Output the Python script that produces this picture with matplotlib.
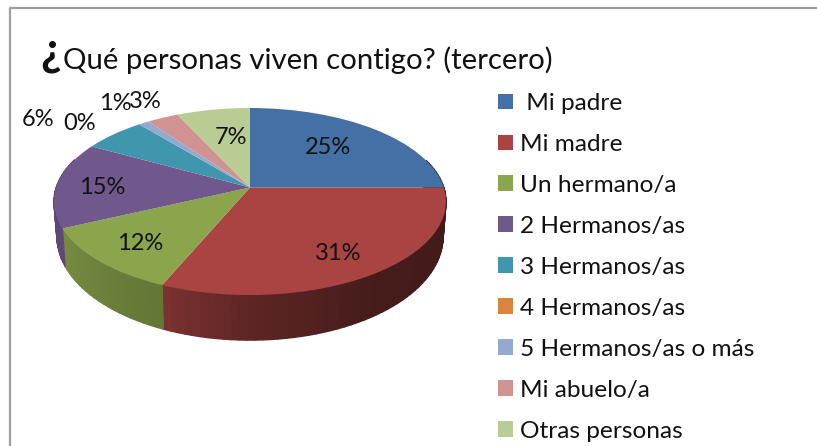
import numpy as np
import matplotlib
matplotlib.use("Agg")
import matplotlib.pyplot as plt
from matplotlib.collections import PolyCollection
from matplotlib.path import Path
from matplotlib.transforms import Transform

categories = [" Mi padre", "Mi madre", "Un hermano/a", "2 Hermanos/as", "3 Hermanos/as",
              "4 Hermanos/as", "5 Hermanos/as o más", "Mi abuelo/a", "Otras personas"]
values = [25, 31.4, 11.7, 14.9, 6, 0, 1, 3, 7]
pct_labels = ["25%", "31%", "12%", "15%", "6%", "0%", "1%", "3%", "7%"]
colors = ["#4470A5", "#A94442", "#8AA54C", "#70578C", "#4096AD", "#DB843D", "#93A9CF", "#D19392", "#B8CC94"]
title = "Qué personas viven contigo? (tercero)"
label_xy = [(328, 148), (338, 254), (140, 244), (102, 188), (38, 120), (80, 124), (115, 104), (145, 102), (231, 138)]

W, H = 817, 446
plt.rcParams["font.family"] = ["Lato", "DejaVu Sans"]
fig = plt.figure(figsize=(W / 100, H / 100), dpi=100)
ax = fig.add_axes([0, 0, 1, 1])

CX, A, B = 250.0, 193.8, 91.4


def project(u, v, y0=187.5, sx=1.0, sy=1.0):
    den = 1 + 0.1497 * v
    return CX + sx * A * u / den, y0 - sy * B * v / den


class Persp(Transform):
    input_dims = output_dims = 2
    has_inverse = False

    def transform_non_affine(self, xy):
        xy = np.asarray(xy, float)
        x, y = project(xy[:, 0], xy[:, 1])
        return np.column_stack([x, y])

    def transform_path_non_affine(self, path):
        return Path(self.transform_non_affine(path.vertices), path.codes)


wedges, _ = ax.pie(values, colors=colors, startangle=90, counterclock=False,
                   wedgeprops=dict(linewidth=0))
ax.set_aspect("auto")
ax.set_xlim(0, W)
ax.set_ylim(H, 0)
ax.axis("off")
per = Persp() + ax.transData
for w in wedges:
    w.set_transform(per)
    w.set_zorder(3)
    w.set_clip_on(False)

# side wall, shaded segment by segment from the same values
wall_keys = [0, 100, 150, 180, 201.6, 205, 245, 290, 360]
wall_vals = [.38, .38, .42, .55, .72, .72, .85, .75, .75]
base_rgb = [np.array(matplotlib.colors.to_rgb(c)) for c in colors]
polys, fcs = [], []
edges = np.cumsum([0] + values) / sum(values) * 360
for i in range(len(values)):
    if values[i] == 0:
        continue
    n = max(2, int((edges[i + 1] - edges[i]) / 2))
    th = np.radians(np.linspace(edges[i], edges[i + 1], n + 1))
    for a, b in zip(th[:-1], th[1:]):
        if np.cos((a + b) / 2) > 0.3:
            continue
        xa, ya = project(np.sin(a), np.cos(a))
        xb, yb = project(np.sin(b), np.cos(b))
        xc, yc = project(np.sin(b), np.cos(b), 221, .985, 1.108)
        xd, yd = project(np.sin(a), np.cos(a), 221, .985, 1.108)
        polys.append([(xa, ya), (xb, yb), (xc, yc), (xd, yd)])
        fcs.append(base_rgb[i] * np.interp(np.degrees((a + b) / 2), wall_keys, wall_vals))
ax.add_collection(PolyCollection(polys, facecolors=fcs, edgecolors=fcs, linewidths=1.0, zorder=2))

for (x, y), t in zip(label_xy, pct_labels):
    ax.text(x, y, t, fontsize=17, ha="center", va="center", color="#111111", zorder=5)

ax.text(63, 60, title, fontsize=21.2, ha="left", va="center", color="#111111")
ax.text(51, 52, "¿", fontsize=33, ha="center", va="center", color="#111111", fontweight="bold")

fig.legend(wedges, categories, loc="upper left", bbox_to_anchor=(498 / W, 1 - 93 / H),
           frameon=False, fontsize=17.6, labelspacing=0.817, handlelength=0.61, handleheight=0.61,
           handletextpad=0.29, borderpad=0, borderaxespad=0, labelcolor="#111111")

ax.plot([10.5, 10.5, W], [H, 8, 8], color="#9E9E9E", lw=1.6, clip_on=False, zorder=1)

fig.savefig("out.png", dpi=100)
